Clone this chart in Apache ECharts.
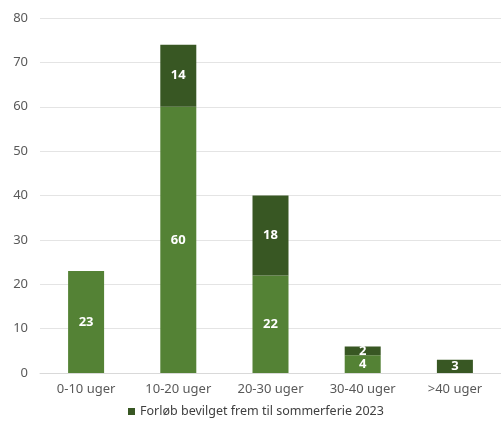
<!DOCTYPE html>
<html>
<head>
<meta charset="utf-8">
<script src="https://cdn.jsdelivr.net/npm/echarts@6/dist/echarts.min.js"></script>
<style>html,body{margin:0;padding:0;background:#fff}#c{width:501px;height:423px}</style>
</head>
<body>
<div id="c"></div>
<script>
const categories = ['0-10 uger', '10-20 uger', '20-30 uger', '30-40 uger', '>40 uger'];
const lightValues = [23, 60, 22, 4, null];
const darkValues = [null, 14, 18, 2, 3];
const yTicks = [0, 10, 20, 30, 40, 50, 60, 70, 80];
const darkName = 'Forløb bevilget frem til sommerferie 2023';
const lightName = 'Forløb';

const chart = echarts.init(document.getElementById('c'));
const labelStyle = {
  show: true, position: 'inside', color: '#ffffff',
  fontFamily: 'Noto Sans', fontSize: 13, fontWeight: 'bold',
  formatter: p => (p.value == null ? '' : p.value)
};
chart.setOption({
  animation: false,
  grid: { left: 40, right: 0, top: 18, bottom: 50, containLabel: false },
  legend: {
    data: [darkName], bottom: 0, left: 123,
    itemWidth: 7, itemHeight: 7, icon: 'rect', itemGap: 4,
    textStyle: { color: '#404040', fontFamily: 'Noto Sans', fontSize: 12.5 }
  },
  xAxis: {
    type: 'category', data: categories,
    axisLine: { show: true, lineStyle: { color: '#d9d9d9' } },
    axisTick: { show: false },
    axisLabel: { color: '#595959', fontFamily: 'Noto Sans', fontSize: 13, margin: 10 }
  },
  yAxis: {
    type: 'value', min: yTicks[0], max: yTicks[yTicks.length - 1], interval: 10,
    axisLine: { show: false }, axisTick: { show: false },
    splitLine: { lineStyle: { color: '#e4e4e4' } },
    axisLabel: { color: '#595959', fontFamily: 'Noto Sans', fontSize: 13, margin: 12 }
  },
  series: [
    { name: lightName, type: 'bar', stack: 's', data: lightValues, barWidth: 36,
      itemStyle: { color: '#548235' }, label: labelStyle },
    { name: darkName, type: 'bar', stack: 's', data: darkValues, barWidth: 36,
      itemStyle: { color: '#385723' }, label: labelStyle }
  ]
});
</script>
</body>
</html>
